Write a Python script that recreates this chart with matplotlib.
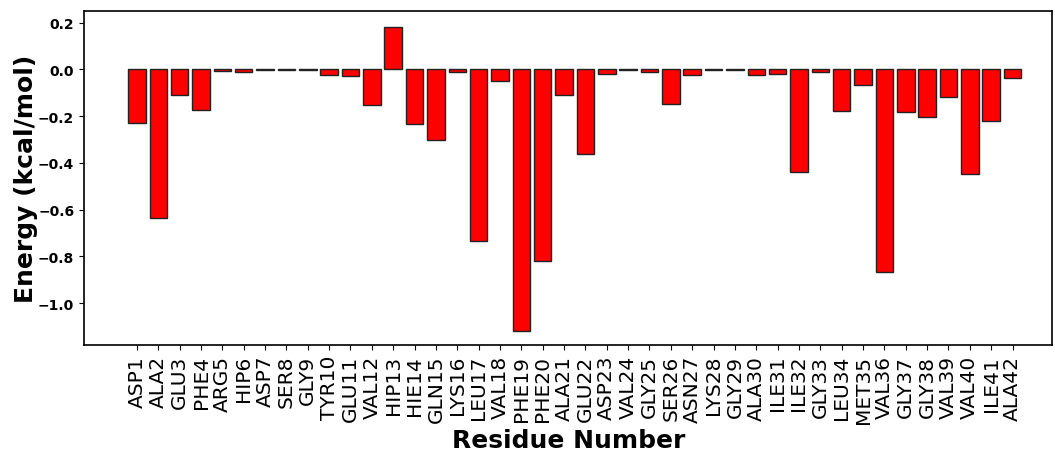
import numpy as np
import matplotlib
matplotlib.use("Agg")
from matplotlib import pyplot as plt

# per-residue decomposition energies
residues = ["ASP1", "ALA2", "GLU3", "PHE4", "ARG5", "HIP6", "ASP7", "SER8", "GLY9", "TYR10",
            "GLU11", "VAL12", "HIP13", "HIE14", "GLN15", "LYS16", "LEU17", "VAL18", "PHE19", "PHE20",
            "ALA21", "GLU22", "ASP23", "VAL24", "GLY25", "SER26", "ASN27", "LYS28", "GLY29", "ALA30",
            "ILE31", "ILE32", "GLY33", "LEU34", "MET35", "VAL36", "GLY37", "GLY38", "VAL39", "VAL40",
            "ILE41", "ALA42"]
energies = [-0.230, -0.637, -0.111, -0.176, -0.006, -0.011, -0.002, -0.001, -0.001, -0.026,
            -0.030, -0.153, 0.183, -0.233, -0.301, -0.011, -0.734, -0.050, -1.119, -0.821,
            -0.110, -0.361, -0.019, -0.004, -0.010, -0.148, -0.024, -0.002, -0.002, -0.024,
            -0.021, -0.441, -0.013, -0.178, -0.066, -0.868, -0.181, -0.204, -0.117, -0.447,
            -0.223, -0.036]

x = np.arange(1, len(residues) + 1)

fig = plt.figure(figsize=(10.55, 4.56), dpi=100)
ax = fig.add_axes([0.0796, 0.241, 0.918, 0.733])
ax.bar(x, energies, width=0.82, color="red", edgecolor="#222222", linewidth=1)

ax.set_xticks(x)
ax.set_xticklabels(residues, rotation=90, fontsize=14.5)
ax.set_xlim(-1.48, 43.87)
ax.set_ylim(-1.18, 0.25)
ax.set_yticks([0.2, 0.0, -0.2, -0.4, -0.6, -0.8, -1.0])
for lab in ax.get_yticklabels():
    lab.set_fontweight("bold")
    lab.set_fontsize(10)
ax.set_xlabel("Residue Number", fontsize=18, fontweight="bold", labelpad=4)
ax.set_ylabel("Energy (kcal/mol)", fontsize=18, fontweight="bold", labelpad=0)
for s in ax.spines.values():
    s.set_linewidth(1.2)

fig.savefig("out.png", dpi=100)
